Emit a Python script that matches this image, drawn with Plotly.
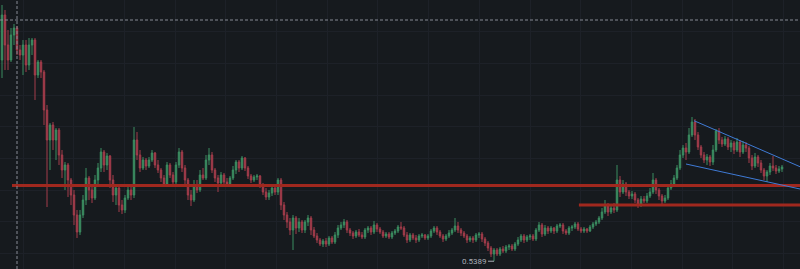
import plotly.graph_objects as go

# ---------------- data ----------------
opens = [
    1.545, 1.770, 1.620, 1.545, 1.670, 1.705, 1.595, 1.570, 1.620, 1.520,
    1.620, 1.645, 1.470, 1.535, 1.485, 1.295, 1.145, 1.220, 1.145, 1.195,
    1.070, 0.995, 1.020, 0.945, 0.870, 0.770, 0.685, 0.770, 0.845, 0.955,
    0.895, 0.855, 0.945, 1.005, 1.085, 1.020, 1.065, 0.945, 0.870, 0.905,
    0.820, 0.795, 0.855, 0.895, 0.870, 1.145, 1.070, 1.005, 1.045, 1.015,
    1.045, 1.080, 1.020, 0.995, 0.955, 0.925, 1.020, 0.970, 0.935, 1.020,
    1.085, 1.005, 0.945, 0.870, 0.845, 0.920, 0.895, 0.970, 0.955, 1.045,
    1.070, 0.995, 0.955, 0.930, 0.970, 0.935, 0.925, 0.955, 0.995, 1.035,
    1.005, 1.055, 1.005, 0.965, 0.945, 0.960, 0.965, 0.920, 0.885, 0.860,
    0.880, 0.905, 0.885, 0.945, 0.820, 0.770, 0.735, 0.695, 0.755, 0.705,
    0.735, 0.695, 0.735, 0.755, 0.695, 0.665, 0.645, 0.625, 0.640, 0.625,
    0.655, 0.635, 0.670, 0.705, 0.720, 0.735, 0.695, 0.680, 0.665, 0.685,
    0.670, 0.660, 0.695, 0.705, 0.685, 0.720, 0.700, 0.685, 0.665, 0.675,
    0.660, 0.680, 0.690, 0.710, 0.705, 0.670, 0.645, 0.670, 0.655, 0.645,
    0.665, 0.670, 0.655, 0.665, 0.690, 0.705, 0.685, 0.665, 0.650, 0.665,
    0.680, 0.695, 0.715, 0.695, 0.680, 0.665, 0.645, 0.655, 0.645, 0.670,
    0.675, 0.650, 0.630, 0.605, 0.575, 0.595, 0.575, 0.600, 0.590, 0.610,
    0.615, 0.600, 0.625, 0.645, 0.665, 0.645, 0.660, 0.665, 0.650, 0.695,
    0.720, 0.675, 0.705, 0.690, 0.705, 0.690, 0.715, 0.720, 0.690, 0.680,
    0.705, 0.710, 0.725, 0.700, 0.690, 0.700, 0.690, 0.710, 0.725, 0.735,
    0.755, 0.785, 0.815, 0.785, 0.805, 0.795, 0.945, 0.885, 0.925, 0.885,
    0.865, 0.875, 0.845, 0.820, 0.850, 0.840, 0.865, 0.885, 0.945, 0.895,
    0.865, 0.840, 0.855, 0.905, 0.925, 0.955, 1.005, 1.070, 1.105, 1.085,
    1.170, 1.235, 1.170, 1.110, 1.070, 1.045, 1.060, 1.035, 1.095, 1.190,
    1.145, 1.125, 1.150, 1.110, 1.130, 1.095, 1.135, 1.085, 1.120, 1.105,
    1.055, 1.015, 1.060, 1.030, 0.995, 0.965, 0.985, 1.015, 1.005, 0.990, 1.000,
]
closes = [
    1.770, 1.620, 1.545, 1.670, 1.705, 1.595, 1.570, 1.620, 1.520, 1.620,
    1.645, 1.470, 1.535, 1.485, 1.295, 1.145, 1.220, 1.145, 1.195, 1.070,
    0.995, 1.020, 0.945, 0.870, 0.770, 0.685, 0.770, 0.845, 0.955, 0.895,
    0.855, 0.945, 1.005, 1.085, 1.020, 1.065, 0.945, 0.870, 0.905, 0.820,
    0.795, 0.855, 0.895, 0.870, 1.145, 1.070, 1.005, 1.045, 1.015, 1.045,
    1.080, 1.020, 0.995, 0.955, 0.925, 1.020, 0.970, 0.935, 1.020, 1.085,
    1.005, 0.945, 0.870, 0.845, 0.920, 0.895, 0.970, 0.955, 1.045, 1.070,
    0.995, 0.955, 0.930, 0.970, 0.935, 0.925, 0.955, 0.995, 1.035, 1.005,
    1.055, 1.005, 0.965, 0.945, 0.960, 0.965, 0.920, 0.885, 0.860, 0.880,
    0.905, 0.885, 0.945, 0.820, 0.770, 0.735, 0.695, 0.755, 0.705, 0.735,
    0.695, 0.735, 0.755, 0.695, 0.665, 0.645, 0.625, 0.640, 0.625, 0.655,
    0.635, 0.670, 0.705, 0.720, 0.735, 0.695, 0.680, 0.665, 0.685, 0.670,
    0.660, 0.695, 0.705, 0.685, 0.720, 0.700, 0.685, 0.665, 0.675, 0.660,
    0.680, 0.690, 0.710, 0.705, 0.670, 0.645, 0.670, 0.655, 0.645, 0.665,
    0.670, 0.655, 0.665, 0.690, 0.705, 0.685, 0.665, 0.650, 0.665, 0.680,
    0.695, 0.715, 0.695, 0.680, 0.665, 0.645, 0.655, 0.645, 0.670, 0.675,
    0.650, 0.630, 0.605, 0.575, 0.595, 0.575, 0.600, 0.590, 0.610, 0.615,
    0.600, 0.625, 0.645, 0.665, 0.645, 0.660, 0.665, 0.650, 0.695, 0.720,
    0.675, 0.705, 0.690, 0.705, 0.690, 0.715, 0.720, 0.690, 0.680, 0.705,
    0.710, 0.725, 0.700, 0.690, 0.700, 0.690, 0.710, 0.725, 0.735, 0.755,
    0.785, 0.815, 0.785, 0.805, 0.795, 0.945, 0.885, 0.925, 0.885, 0.865,
    0.875, 0.845, 0.820, 0.850, 0.840, 0.865, 0.885, 0.945, 0.895, 0.865,
    0.840, 0.855, 0.905, 0.925, 0.955, 1.005, 1.070, 1.105, 1.085, 1.170,
    1.235, 1.170, 1.110, 1.070, 1.045, 1.060, 1.035, 1.095, 1.190, 1.145,
    1.125, 1.150, 1.110, 1.130, 1.095, 1.135, 1.085, 1.120, 1.105, 1.055,
    1.015, 1.060, 1.030, 0.995, 0.965, 0.985, 1.015, 1.005, 0.990, 1.000, 1.010,
]
highs = [
    1.820, 1.795, 1.695, 1.705, 1.725, 1.715, 1.620, 1.645, 1.645, 1.655,
    1.655, 1.655, 1.545, 1.545, 1.495, 1.320, 1.230, 1.235, 1.205, 1.205,
    1.095, 1.035, 1.030, 0.955, 0.895, 0.795, 0.795, 0.870, 1.005, 0.965,
    0.920, 0.970, 1.030, 1.105, 1.095, 1.080, 1.070, 0.970, 0.920, 0.915,
    0.845, 0.870, 0.915, 0.920, 1.210, 1.185, 1.095, 1.060, 1.055, 1.060,
    1.095, 1.085, 1.045, 1.005, 0.970, 1.035, 1.030, 0.985, 1.035, 1.105,
    1.095, 1.020, 0.955, 0.895, 0.945, 0.945, 0.995, 1.005, 1.070, 1.105,
    1.085, 1.005, 0.970, 0.985, 0.980, 0.955, 0.965, 1.015, 1.045, 1.045,
    1.065, 1.060, 1.015, 0.975, 0.970, 0.975, 0.970, 0.930, 0.905, 0.895,
    0.915, 0.920, 0.955, 0.955, 0.835, 0.785, 0.755, 0.770, 0.765, 0.755,
    0.745, 0.745, 0.770, 0.765, 0.710, 0.680, 0.655, 0.650, 0.655, 0.665,
    0.665, 0.685, 0.720, 0.735, 0.750, 0.745, 0.705, 0.690, 0.695, 0.700,
    0.685, 0.705, 0.715, 0.715, 0.740, 0.730, 0.710, 0.695, 0.685, 0.685,
    0.690, 0.700, 0.720, 0.735, 0.715, 0.685, 0.680, 0.680, 0.670, 0.675,
    0.680, 0.675, 0.675, 0.700, 0.715, 0.715, 0.695, 0.675, 0.675, 0.695,
    0.705, 0.755, 0.735, 0.705, 0.690, 0.675, 0.665, 0.665, 0.680, 0.685,
    0.685, 0.660, 0.640, 0.615, 0.605, 0.605, 0.610, 0.615, 0.620, 0.625,
    0.625, 0.635, 0.660, 0.675, 0.675, 0.670, 0.675, 0.675, 0.705, 0.735,
    0.730, 0.720, 0.715, 0.715, 0.710, 0.725, 0.730, 0.730, 0.700, 0.715,
    0.720, 0.735, 0.735, 0.710, 0.710, 0.705, 0.720, 0.735, 0.745, 0.765,
    0.805, 0.845, 0.830, 0.825, 0.830, 1.020, 0.965, 0.945, 0.935, 0.895,
    0.890, 0.885, 0.855, 0.865, 0.865, 0.880, 0.905, 0.980, 0.955, 0.905,
    0.875, 0.870, 0.920, 0.945, 0.970, 1.020, 1.095, 1.120, 1.130, 1.205,
    1.260, 1.250, 1.185, 1.120, 1.085, 1.075, 1.070, 1.120, 1.200, 1.205,
    1.160, 1.165, 1.160, 1.145, 1.140, 1.155, 1.145, 1.140, 1.135, 1.115,
    1.070, 1.080, 1.070, 1.045, 1.005, 0.995, 1.030, 1.065, 1.020, 1.015, 1.020,
]
lows = [
    1.455, 1.495, 1.495, 1.535, 1.620, 1.570, 1.545, 1.470, 1.485, 1.495,
    1.570, 1.345, 1.455, 1.455, 1.220, 0.810, 0.995, 1.095, 1.045, 1.020,
    0.955, 0.895, 0.860, 0.820, 0.720, 0.655, 0.670, 0.755, 0.820, 0.845,
    0.830, 0.845, 0.920, 0.985, 0.985, 0.995, 0.905, 0.835, 0.820, 0.785,
    0.775, 0.780, 0.845, 0.845, 0.855, 1.045, 0.985, 0.995, 0.995, 1.005,
    1.035, 1.005, 0.980, 0.935, 0.910, 0.915, 0.955, 0.915, 0.925, 1.005,
    0.985, 0.925, 0.845, 0.815, 0.835, 0.880, 0.885, 0.945, 0.945, 1.020,
    0.980, 0.935, 0.885, 0.915, 0.920, 0.910, 0.915, 0.945, 0.975, 0.985,
    0.995, 0.990, 0.950, 0.930, 0.935, 0.945, 0.905, 0.870, 0.845, 0.845,
    0.865, 0.870, 0.870, 0.795, 0.745, 0.705, 0.670, 0.595, 0.675, 0.685,
    0.680, 0.680, 0.715, 0.670, 0.655, 0.630, 0.615, 0.610, 0.610, 0.615,
    0.625, 0.625, 0.655, 0.695, 0.705, 0.680, 0.665, 0.650, 0.655, 0.660,
    0.650, 0.650, 0.680, 0.670, 0.675, 0.685, 0.675, 0.655, 0.655, 0.650,
    0.650, 0.670, 0.680, 0.695, 0.660, 0.630, 0.635, 0.645, 0.630, 0.635,
    0.655, 0.645, 0.645, 0.655, 0.680, 0.670, 0.655, 0.635, 0.640, 0.655,
    0.670, 0.685, 0.680, 0.665, 0.655, 0.630, 0.635, 0.630, 0.635, 0.655,
    0.635, 0.615, 0.590, 0.560, 0.5389, 0.565, 0.565, 0.580, 0.580, 0.595,
    0.590, 0.590, 0.615, 0.635, 0.630, 0.635, 0.645, 0.640, 0.640, 0.685,
    0.660, 0.665, 0.675, 0.680, 0.675, 0.680, 0.705, 0.675, 0.670, 0.670,
    0.690, 0.700, 0.690, 0.680, 0.680, 0.680, 0.685, 0.700, 0.715, 0.725,
    0.745, 0.775, 0.765, 0.775, 0.780, 0.785, 0.860, 0.875, 0.865, 0.850,
    0.850, 0.830, 0.805, 0.810, 0.830, 0.830, 0.855, 0.875, 0.875, 0.845,
    0.825, 0.830, 0.845, 0.895, 0.910, 0.945, 0.995, 1.055, 1.045, 1.075,
    1.160, 1.145, 1.095, 1.055, 1.030, 1.020, 1.015, 1.020, 1.085, 1.125,
    1.110, 1.115, 1.095, 1.085, 1.075, 1.085, 1.060, 1.075, 1.085, 1.030,
    0.995, 1.005, 1.010, 0.980, 0.945, 0.935, 0.970, 0.990, 0.975, 0.980, 0.985,
]
bars = list(range(len(opens)))

# drawings (price levels / trend line anchors, in bar index & price units)
support_levels = [0.9175, 0.82]
support_start_bar = [3.33, 192.3]
wedge_upper_bars = [230.67, 266.0]
wedge_upper_prices = [1.2415, 1.0115]
wedge_lower_bars = [228.0, 266.0]
wedge_lower_prices = [1.025, 0.900]
low_value = 0.5389
low_label = "0.5389"
crosshair_bar = 5.0
crosshair_price = 1.745

# ---------------- style ----------------
BG = "#161a1e"
GRID = "#1d2128"
GREEN = "#3b8d61"
RED = "#a33c4b"
LEVEL_RED = "#a0281e"
BLUE = "#3f7bd6"
CROSS = "#868a94"
LABEL = "#a9adb6"

X_RANGE = [-0.667, 266.0]
Y_RANGE = [0.5, 1.845]

fig = go.Figure()
fig.add_trace(go.Candlestick(
    x=bars, open=opens, high=highs, low=lows, close=closes,
    increasing=dict(line=dict(color=GREEN, width=1), fillcolor=GREEN),
    decreasing=dict(line=dict(color=RED, width=1), fillcolor=RED),
    whiskerwidth=0, showlegend=False, hoverinfo="skip",
))

shapes = []
for lvl, x0 in zip(support_levels, support_start_bar):
    shapes.append(dict(type="line", xref="x", yref="y", x0=x0, x1=X_RANGE[1],
                       y0=lvl, y1=lvl, line=dict(color=LEVEL_RED, width=3)))
shapes.append(dict(type="line", xref="x", yref="y",
                   x0=wedge_upper_bars[0], x1=wedge_upper_bars[1],
                   y0=wedge_upper_prices[0], y1=wedge_upper_prices[1],
                   line=dict(color=BLUE, width=1)))
shapes.append(dict(type="line", xref="x", yref="y",
                   x0=wedge_lower_bars[0], x1=wedge_lower_bars[1],
                   y0=wedge_lower_prices[0], y1=wedge_lower_prices[1],
                   line=dict(color=BLUE, width=1)))
# crosshair
shapes.append(dict(type="line", xref="x", yref="paper", x0=crosshair_bar, x1=crosshair_bar,
                   y0=0, y1=1, line=dict(color=CROSS, width=1, dash="3px,2px")))
shapes.append(dict(type="line", xref="paper", yref="y", x0=0, x1=1,
                   y0=crosshair_price, y1=crosshair_price,
                   line=dict(color=CROSS, width=1, dash="3px,2px")))
# low marker line
shapes.append(dict(type="line", xref="x", yref="y", x0=162.0, x1=164.0,
                   y0=low_value, y1=low_value, line=dict(color=LABEL, width=1)))

fig.update_layout(
    width=800, height=269,
    margin=dict(l=0, r=0, t=0, b=0),
    paper_bgcolor=BG, plot_bgcolor=BG,
    shapes=shapes,
    showlegend=False,
    annotations=[dict(x=162.3, y=low_value, xref="x", yref="y", text=low_label,
                      showarrow=False, xanchor="right", yanchor="middle",
                      font=dict(family="Roboto, sans-serif", size=8, color=LABEL))],
    xaxis=dict(range=X_RANGE, showgrid=True, gridcolor=GRID, gridwidth=1,
               tick0=7, dtick=16.9, showticklabels=False, zeroline=False,
               rangeslider=dict(visible=False), showline=False, ticks=""),
    yaxis=dict(range=Y_RANGE, showgrid=True, gridcolor=GRID, gridwidth=1,
               tick0=0.5783, dtick=0.15833, showticklabels=False, zeroline=False,
               showline=False, ticks=""),
)

fig.write_html("out.html")
